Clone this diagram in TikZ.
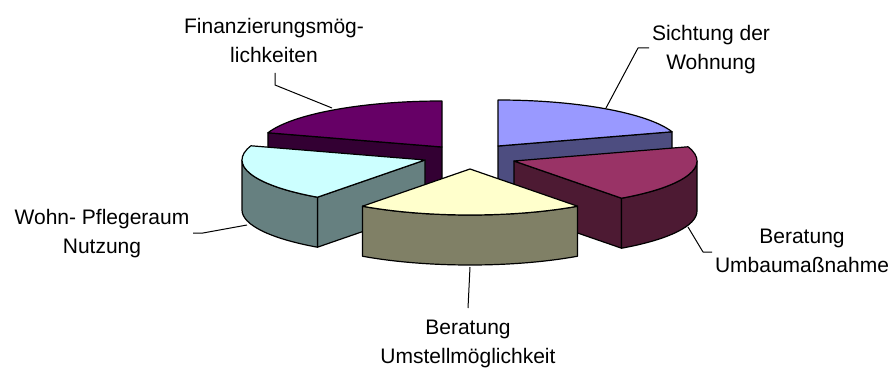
\documentclass[tikz,border=0pt]{standalone}
\usepackage{fontspec}
\setmainfont{Liberation Sans}
\definecolor{pieblue}{HTML}{9999FF}
\definecolor{piebluedark}{HTML}{4D4D80}
\definecolor{piewine}{HTML}{993366}
\definecolor{piewinedark}{HTML}{4D1A33}
\definecolor{piecream}{HTML}{FFFFCC}
\definecolor{piecreamdark}{HTML}{808066}
\definecolor{piecyan}{HTML}{CCFFFF}
\definecolor{piecyandark}{HTML}{668080}
\definecolor{piepurple}{HTML}{660066}
\definecolor{piepurpledark}{HTML}{330033}

\begin{document}
\begin{tikzpicture}[x=1pt,y=1pt,line width=1.2pt,line join=round,
  lbl/.style={font=\fontsize{21}{29}\selectfont,align=center,inner sep=0pt},
  lead/.style={line width=1pt}]
\useasboundingbox (0,0) rectangle (893,367);

% apex of each slice (exploded)
\coordinate (sicht) at (498,221);
\coordinate (umbau) at (514,206);
\coordinate (umst) at (470,198);
\coordinate (wohn) at (425,207);
\coordinate (finanz) at (442,220);

% back slices
\draw[fill=piepurpledark] (finanz) -- ++(162:183pt and 46pt) -- ++(0,-50) -- ++(-18:183pt and 46pt) -- cycle;
\draw[fill=piepurple] (finanz) -- ++(162:183pt and 46pt) arc[start angle=162,end angle=90,x radius=183pt,y radius=46pt] -- cycle;
\draw[fill=piebluedark] (sicht) -- ++(18:183pt and 46pt) -- ++(0,-50) -- ++(198:183pt and 46pt) -- cycle;
\draw[fill=pieblue] (sicht) -- ++(90:183pt and 46pt) arc[start angle=90,end angle=18,x radius=183pt,y radius=46pt] -- cycle;

% side slices
\draw[fill=piecyandark] (wohn) -- ++(-126:183pt and 46pt) -- ++(0,-50) -- ++(54:183pt and 46pt) -- cycle;
\draw[fill=piecyandark] (wohn) ++(180:183pt and 46pt) arc[start angle=180,end angle=234,x radius=183pt,y radius=46pt]
  -- ++(0,-50) arc[start angle=234,end angle=180,x radius=183pt,y radius=46pt] -- cycle;
\draw[fill=piecyan] (wohn) -- ++(-126:183pt and 46pt) arc[start angle=-126,end angle=-198,x radius=183pt,y radius=46pt] -- cycle;
\draw[fill=piewinedark] (umbau) -- ++(-54:183pt and 46pt) -- ++(0,-50) -- ++(126:183pt and 46pt) -- cycle;
\draw[fill=piewinedark] (umbau) ++(0:183pt and 46pt) arc[start angle=0,end angle=-54,x radius=183pt,y radius=46pt]
  -- ++(0,-50) arc[start angle=-54,end angle=0,x radius=183pt,y radius=46pt] -- cycle;
\draw[fill=piewine] (umbau) -- ++(18:183pt and 46pt) arc[start angle=18,end angle=-54,x radius=183pt,y radius=46pt] -- cycle;

% front slice
\draw[fill=piecreamdark] (umst) ++(-54:183pt and 46pt) arc[start angle=-54,end angle=-126,x radius=183pt,y radius=46pt]
  -- ++(0,-50) arc[start angle=-126,end angle=-54,x radius=183pt,y radius=46pt] -- cycle;
\draw[fill=piecream] (umst) -- ++(-54:183pt and 46pt) arc[start angle=-54,end angle=-126,x radius=183pt,y radius=46pt] -- cycle;

% labels
\node[lbl] (lfinanz) at (274,327) {Finanzierungsmög-\\lichkeiten};
\node[lbl] (lsicht) at (711,317) {Sichtung der\\Wohnung};
\node[lbl] (lwohn) at (102,133) {Wohn- Pflegeraum\\Nutzung};
\node[lbl] (lumbau) at (802,116) {Beratung\\Umbaumaßnahme};
\node[lbl] (lumst) at (468,23) {Beratung\\Umstellmöglichkeit};

% leader lines
\coordinate (ffin) at (275,294);
\coordinate (kfin) at (275,282);
\coordinate (pfin) at (332,259);
\coordinate (fsicht) at (649,319);
\coordinate (ksicht) at (638,319);
\coordinate (psicht) at (606,259);
\coordinate (fwohn) at (193,134);
\coordinate (kwohn) at (203,134);
\coordinate (pwohn) at (247,142);
\coordinate (pumbau) at (688,140);
\coordinate (kumbau) at (703,115);
\coordinate (fumbau) at (712,115);
\coordinate (pumst) at (470,100);
\coordinate (fumst) at (468,59);
\draw[lead] (ffin) -- (kfin) -- (pfin);
\draw[lead] (fsicht) -- (ksicht) -- (psicht);
\draw[lead] (fwohn) -- (kwohn) -- (pwohn);
\draw[lead] (pumbau) -- (kumbau) -- (fumbau);
\draw[lead] (pumst) -- (fumst);
\end{tikzpicture}
\end{document}
